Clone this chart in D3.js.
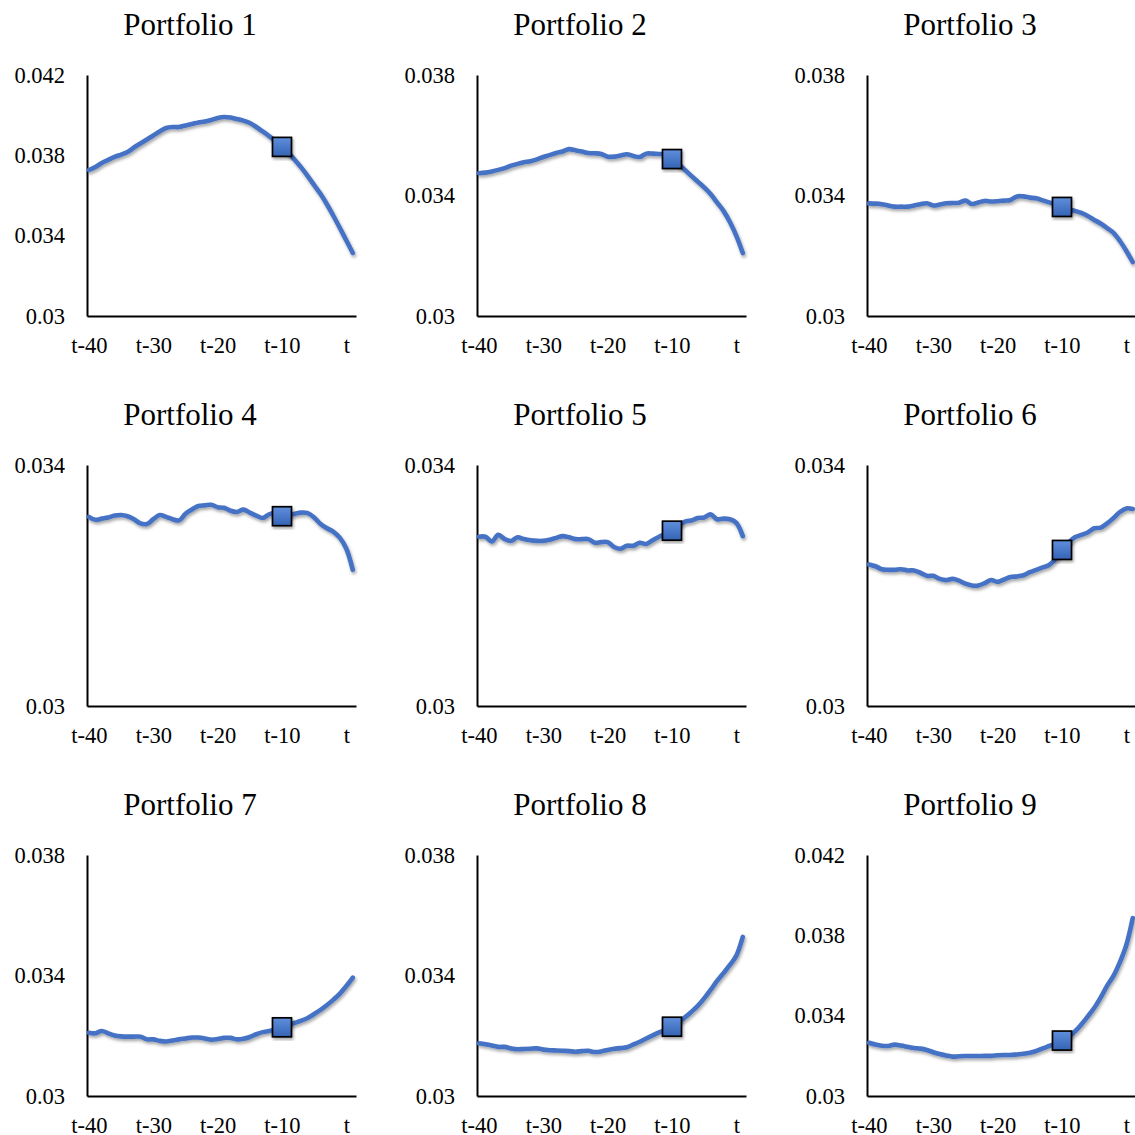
<!DOCTYPE html>
<html>
<head>
<meta charset="utf-8">
<script src="https://cdn.jsdelivr.net/npm/d3@7"></script>
<style>
  html, body { margin: 0; padding: 0; background: #fff; overflow: hidden; }
  svg { display: block; }
</style>
</head>
<body>
<svg id="chart" width="1135" height="1135"></svg>
<script>
// ---- data ----
const periods = d3.range(-40, 2); // t-40 ... t+1
const xTickValues = [-40, -30, -20, -10, 0];
const xTickLabels = ["t-40", "t-30", "t-20", "t-10", "t"];
const markerPeriod = -10;

const titles = ["Portfolio 1","Portfolio 2","Portfolio 3","Portfolio 4","Portfolio 5","Portfolio 6","Portfolio 7","Portfolio 8","Portfolio 9"];

const p1 = [0.03727,0.03742,0.03762,0.03777,0.03792,0.03804,0.03817,0.03839,0.03859,0.03879,0.03899,0.03919,0.03936,0.03941,0.03941,0.03949,0.03956,0.03964,0.03968,0.03976,0.03986,0.03991,0.03988,0.03981,0.03973,0.03961,0.03941,0.03919,0.03896,0.03871,0.03842,0.03812,0.03777,0.03739,0.03697,0.03652,0.03607,0.03555,0.03498,0.03438,0.03376,0.03314];
const p2 = [0.03474,0.03476,0.03480,0.03485,0.03491,0.03499,0.03505,0.03510,0.03514,0.03520,0.03528,0.03534,0.03541,0.03546,0.03554,0.03550,0.03546,0.03541,0.03540,0.03538,0.03529,0.03529,0.03533,0.03537,0.03531,0.03528,0.03539,0.03539,0.03538,0.03536,0.03521,0.03505,0.03485,0.03465,0.03446,0.03427,0.03405,0.03377,0.03349,0.03312,0.03266,0.03209];
const p3 = [0.03374,0.03373,0.03371,0.03367,0.03363,0.03363,0.03363,0.03367,0.03371,0.03374,0.03367,0.03370,0.03374,0.03375,0.03376,0.03383,0.03372,0.03377,0.03382,0.03380,0.03381,0.03383,0.03385,0.03397,0.03397,0.03393,0.03391,0.03384,0.03377,0.03370,0.03362,0.03355,0.03349,0.03342,0.03332,0.03319,0.03307,0.03292,0.03276,0.03249,0.03216,0.03179];
const p4 = [0.03314,0.03309,0.03311,0.03313,0.03316,0.03317,0.03315,0.03310,0.03303,0.03302,0.03310,0.03317,0.03314,0.03310,0.03308,0.03319,0.03326,0.03332,0.03333,0.03334,0.03330,0.03329,0.03324,0.03322,0.03326,0.03321,0.03316,0.03312,0.03318,0.03320,0.03315,0.03316,0.03319,0.03321,0.03320,0.03313,0.03302,0.03295,0.03289,0.03279,0.03261,0.03226];
const p5 = [0.03281,0.03281,0.03273,0.03284,0.03277,0.03274,0.03280,0.03277,0.03275,0.03274,0.03274,0.03276,0.03279,0.03282,0.03280,0.03277,0.03277,0.03277,0.03271,0.03272,0.03272,0.03264,0.03261,0.03266,0.03266,0.03271,0.03269,0.03275,0.03281,0.03286,0.03291,0.03299,0.03306,0.03308,0.03312,0.03313,0.03318,0.03310,0.03311,0.03310,0.03304,0.03282];
const p6 = [0.03235,0.03232,0.03227,0.03226,0.03226,0.03227,0.03225,0.03225,0.03221,0.03216,0.03216,0.03211,0.03209,0.03211,0.03208,0.03203,0.03200,0.03200,0.03204,0.03209,0.03206,0.03210,0.03214,0.03215,0.03217,0.03222,0.03226,0.03230,0.03234,0.03244,0.03259,0.03271,0.03280,0.03284,0.03288,0.03295,0.03296,0.03303,0.03312,0.03322,0.03328,0.03327];
const p7 = [0.03210,0.03208,0.03216,0.03208,0.03201,0.03198,0.03197,0.03197,0.03197,0.03188,0.03188,0.03183,0.03181,0.03184,0.03188,0.03191,0.03194,0.03194,0.03191,0.03187,0.03189,0.03193,0.03193,0.03188,0.03190,0.03196,0.03205,0.03212,0.03216,0.03221,0.03228,0.03236,0.03243,0.03250,0.03259,0.03272,0.03286,0.03302,0.03320,0.03340,0.03365,0.03393];
const p8 = [0.03175,0.03172,0.03168,0.03163,0.03163,0.03158,0.03155,0.03156,0.03157,0.03158,0.03154,0.03152,0.03151,0.03150,0.03149,0.03147,0.03149,0.03150,0.03146,0.03148,0.03153,0.03157,0.03159,0.03162,0.03171,0.03180,0.03191,0.03201,0.03211,0.03220,0.03230,0.03244,0.03261,0.03279,0.03299,0.03324,0.03352,0.03382,0.03408,0.03435,0.03466,0.03528];
const p9 = [0.03265,0.03256,0.03250,0.03249,0.03256,0.03251,0.03245,0.03239,0.03236,0.03229,0.03218,0.03209,0.03202,0.03196,0.03198,0.03199,0.03199,0.03199,0.03200,0.03200,0.03203,0.03204,0.03204,0.03207,0.03210,0.03215,0.03224,0.03237,0.03249,0.03261,0.03276,0.03296,0.03321,0.03356,0.03396,0.03438,0.03490,0.03548,0.03598,0.03667,0.03752,0.03886];

const yDomains = [[0.03,0.042],[0.03,0.038],[0.03,0.038],[0.03,0.034],[0.03,0.034],[0.03,0.034],[0.03,0.038],[0.03,0.038],[0.03,0.042]];
const yTicks = [[0.03,0.034,0.038,0.042],[0.03,0.034,0.038],[0.03,0.034,0.038],[0.03,0.034],[0.03,0.034],[0.03,0.034],[0.03,0.034,0.038],[0.03,0.034,0.038],[0.03,0.034,0.038,0.042]];

const seriesList = [p1,p2,p3,p4,p5,p6,p7,p8,p9];

// ---- layout ----
const FONT = '"Liberation Serif", "Times New Roman", "DejaVu Serif", serif';
const cellW = 390, cellH = 390;
const axL = 87, axR = 356, axT = 75, axB = 316;
const lineColor = "#4472C4";

const svg = d3.select("#chart");
const defs = svg.append("defs");
const f = defs.append("filter").attr("id","shadow").attr("x","-10%").attr("y","-10%").attr("width","130%").attr("height","130%");
f.append("feDropShadow").attr("dx",1.2).attr("dy",2.2).attr("stdDeviation",1.4)
  .attr("flood-color","#000").attr("flood-opacity",0.35);
const g0 = defs.append("linearGradient").attr("id","mk").attr("x1","0").attr("y1","0").attr("x2","0").attr("y2","1");
g0.append("stop").attr("offset","0%").attr("stop-color","#5f8fdc");
g0.append("stop").attr("offset","100%").attr("stop-color","#3563b5");

const x = d3.scaleLinear().domain([-40.3, 1.5]).range([axL, axR]);

seriesList.forEach((vals, i) => {
  const col = i % 3, row = Math.floor(i / 3);
  const g = svg.append("g").attr("transform", `translate(${col*cellW},${row*cellH})`);
  const y = d3.scaleLinear().domain(yDomains[i]).range([axB, axT]);

  g.append("text").attr("x", 190).attr("y", 35).attr("text-anchor","middle")
    .style("font-family", FONT).style("font-size","31px").style("fill","#000").text(titles[i]);

  const ya = g.append("g").attr("transform",`translate(${axL},0)`)
    .call(d3.axisLeft(y).tickValues(yTicks[i]).tickFormat(d => String(+d.toFixed(3)))
      .tickSize(0).tickSizeOuter(0).tickPadding(22));
  ya.attr("font-family", FONT).attr("font-size", 22.5);
  ya.select(".domain").attr("stroke","#000").attr("stroke-width",2);
  ya.selectAll("text").style("font-family", FONT).style("font-size","22.5px").attr("fill","#000");

  const xa = g.append("g").attr("transform",`translate(0,${axB})`)
    .call(d3.axisBottom(x).tickValues(xTickValues).tickFormat((d,k) => xTickLabels[k])
      .tickSize(0).tickSizeOuter(0).tickPadding(21));
  xa.attr("font-family", FONT).attr("font-size", 22.5);
  xa.select(".domain").attr("stroke","#000").attr("stroke-width",2);
  xa.selectAll("text").style("font-family", FONT).style("font-size","22.5px").attr("fill","#000");

  const data = periods.map((t, k) => ({t, v: vals[k]}));
  const line = d3.line().x(d => x(d.t)).y(d => y(d.v)).curve(d3.curveCatmullRom.alpha(0.5));
  g.append("path").datum(data).attr("d", line)
    .attr("fill","none").attr("stroke", lineColor).attr("stroke-width", 4.6)
    .attr("stroke-linejoin","round").attr("stroke-linecap","round")
    .attr("filter","url(#shadow)");

  const m = data.find(d => d.t === markerPeriod);
  const s = 19;
  g.append("rect").attr("x", x(m.t) - s/2).attr("y", y(m.v) - s/2)
    .attr("width", s).attr("height", s)
    .attr("fill","url(#mk)").attr("stroke","#000").attr("stroke-width",1.7)
    .attr("filter","url(#shadow)");
});
</script>
</body>
</html>
